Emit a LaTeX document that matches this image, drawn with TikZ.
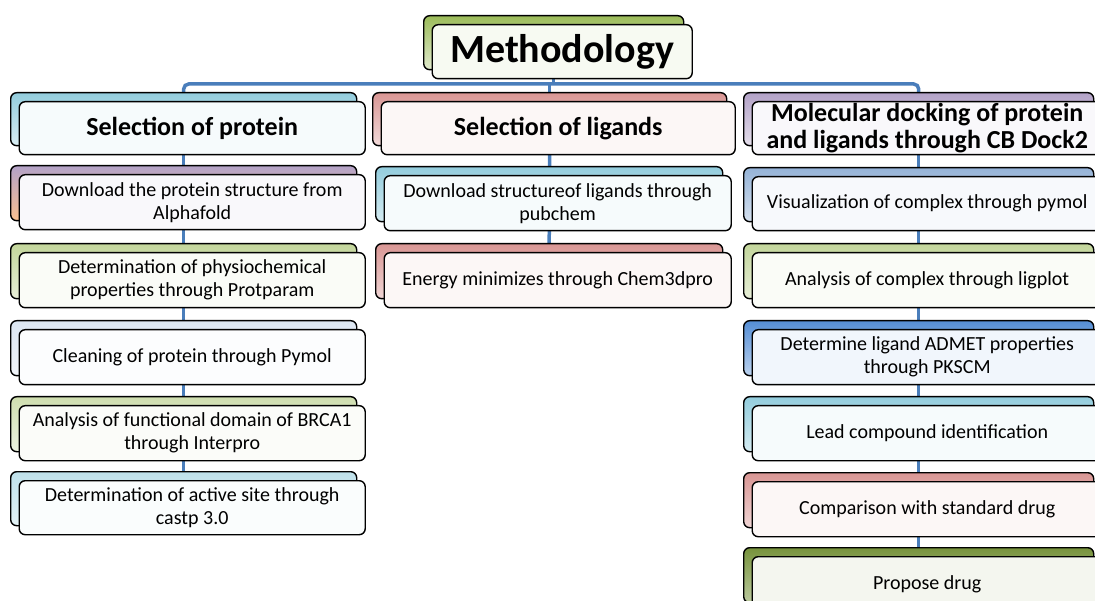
\documentclass[tikz,border=0pt]{standalone}
\usepackage{fontspec}
\setmainfont{Carlito}
\usetikzlibrary{backgrounds}
\definecolor{cgreen}{HTML}{9BBB59}
\definecolor{clgreen}{HTML}{C3D69B}
\definecolor{ccyan}{HTML}{93CDDD}
\definecolor{cred}{HTML}{D99694}
\definecolor{cpurple}{HTML}{B3A2C7}
\definecolor{cpeach}{HTML}{FAC090}
\definecolor{cblue}{HTML}{95B3D7}
\definecolor{cdblue}{HTML}{558ED5}
\definecolor{colive}{HTML}{77933C}
\definecolor{cpale}{HTML}{DCE6F2}
\definecolor{linkblue}{HTML}{4A7EBB}
\tikzset{
  backbox/.style={draw=black, line width=1.4pt, rounded corners=6pt, anchor=north west, inner sep=0pt},
  frontbox/.style={draw=black, line width=1.4pt, rounded corners=6pt, anchor=north west, inner sep=0pt, align=center, text=black},
  headtext/.style={font=\fontsize{26}{27}\selectfont\bfseries},
  steptext/.style={font=\fontsize{20}{23}\selectfont},
  titletext/.style={font=\fontsize{40}{44}\selectfont\bfseries},
  conn/.style={draw=linkblue, line width=3.5pt},
}
\newcommand{\pairbox}[9]{%
  \node[backbox, minimum width=#4pt, minimum height=#5pt, top color=#6, bottom color=#7] (#1b) at (#2,#3) {};
  \node[frontbox, minimum width=#4pt, minimum height=#5pt, fill=#6!8!white, #8] (#1) at ({#2+8.5},{#3+9}) {#9};
}
\begin{document}
\begin{tikzpicture}[x=1pt,y=-1pt]
\useasboundingbox (0,0) rectangle (1095,601);
\clip (0,0) rectangle (1095,601);
% title
\pairbox{meth}{423}{15}{260}{54}{cgreen}{clgreen!50!white}{titletext}{Methodology}
% headings
\pairbox{ha}{10}{92}{346}{53}{ccyan}{ccyan!35!white}{headtext}{Selection of protein}
\pairbox{hb}{372}{92}{354}{53}{cred}{cred!35!white}{headtext}{Selection of ligands}
\pairbox{hc}{743}{92}{350}{53}{cpurple}{cpurple!35!white}{headtext}{Molecular docking of protein\\and ligands through CB Dock2}
% column 1
\pairbox{aa}{10}{165}{346}{55}{cpurple}{cpeach}{steptext}{Download the protein structure from\\Alphafold}
\pairbox{ab}{10}{243}{346}{55}{clgreen}{clgreen!40!white}{steptext}{Determination of physiochemical\\properties through Protparam}
\pairbox{ac}{10}{320}{346}{55}{cpale}{cpale!40!white}{steptext}{Cleaning of protein through Pymol}
\pairbox{ad}{10}{396}{346}{55}{clgreen!80!white}{clgreen!30!white}{steptext}{Analysis of functional domain of BRCA1\\through Interpro}
\pairbox{ae}{10}{471}{346}{54}{ccyan!60!white}{ccyan!25!white}{steptext}{Determination of active site through\\castp 3.0}
% column 2
\pairbox{ba}{375}{166}{347}{55}{ccyan}{ccyan!40!white}{steptext}{Download structureof ligands through\\pubchem}
\pairbox{bb}{375}{243}{347}{55}{cred}{cred!40!white}{steptext}{Energy minimizes through Chem3dpro}
% column 3
\pairbox{ca}{743}{167}{350}{54}{cblue}{cblue!40!white}{steptext}{Visualization of complex through pymol}
\pairbox{cb}{743}{243}{350}{55}{clgreen}{clgreen!40!white}{steptext}{Analysis of complex through ligplot}
\pairbox{cc}{743}{320}{350}{55}{cdblue}{cdblue!40!white}{steptext}{Determine ligand ADMET properties\\through PKSCM}
\pairbox{cd}{743}{396}{350}{55}{ccyan}{ccyan!40!white}{steptext}{Lead compound identification}
\pairbox{ce}{743}{472}{350}{55}{cred}{cred!40!white}{steptext}{Comparison with standard drug}
\pairbox{cf}{743}{547}{350}{55}{colive}{colive!50!white}{steptext}{Propose drug}
\coordinate (bus) at (0,84);
\begin{scope}[on background layer]
  \draw[conn] (methb.south) -- (methb.south |- bus);
  \draw[conn, rounded corners=5pt] (hab.north) -- (hab.north |- bus) -- (hcb.north |- bus) -- (hcb.north);
  \draw[conn] (hbb.north |- bus) -- (hbb.north);
  \draw[conn] (hab.south) -- (aeb.north);
  \draw[conn] (hbb.south) -- (bbb.north);
  \draw[conn] (hcb.south) -- (cfb.north);
\end{scope}
\end{tikzpicture}
\end{document}
